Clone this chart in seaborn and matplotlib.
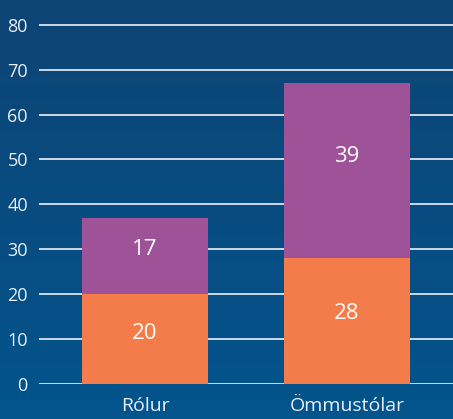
import numpy as np
import pandas as pd
import matplotlib
matplotlib.use("Agg")
import matplotlib.pyplot as plt
from matplotlib.colors import LinearSegmentedColormap
import seaborn as sns

categories = ["Rólur", "Ömmustólar"]
lower_vals = [20, 28]
upper_vals = [17, 39]
y_ticks = [0, 10, 20, 30, 40, 50, 60, 70, 80]

orange = "#f47c4a"
purple = "#9e5297"
text_col = "#e8eef5"
grid_col = "#dce5ee"

sns.set_style("white")
plt.rcParams["font.family"] = ["Open Sans", "DejaVu Sans"]

df = pd.DataFrame({"cat": categories, "lower": lower_vals, "upper": upper_vals})
df["total"] = df["lower"] + df["upper"]

fig = plt.figure(figsize=(4.53, 4.19), dpi=100)

# gradient background
bg = fig.add_axes([0, 0, 1, 1])
cmap = LinearSegmentedColormap.from_list("bg", ["#0d4474", "#03548d"])
grad = np.linspace(0, 1, 256).reshape(-1, 1)
bg.imshow(grad, aspect="auto", cmap=cmap, extent=[0, 1, 0, 1])
bg.axis("off")

ax = fig.add_axes([0.086, 0.0835, 0.914, 0.9165])
ax.patch.set_alpha(0)

sns.barplot(data=df, x="cat", y="total", color=purple, width=0.624,
            saturation=1, linewidth=0, ax=ax, zorder=3)
sns.barplot(data=df, x="cat", y="lower", color=orange, width=0.624,
            saturation=1, linewidth=0, ax=ax, zorder=3)

# labels sit a little above the segment middle, like the original
for i, row in df.iterrows():
    lo, up = row["lower"], row["upper"]
    ax.text(i, lo / 2 + 0.06 * lo, str(lo), ha="center", va="center",
            color="white", fontsize=16, zorder=4)
    ax.text(i, lo + up / 2 + 0.08 * up, str(up), ha="center", va="center",
            color="white", fontsize=16, zorder=4)

ax.set_xlim(-0.525, 1.525)
ax.set_ylim(0, 85.5)
ax.set_yticks(y_ticks)
ax.yaxis.grid(True, color=grid_col, linewidth=1.3, zorder=1)
ax.set_axisbelow(True)
for s in ax.spines.values():
    s.set_visible(False)
ax.tick_params(axis="both", length=0, colors=text_col)
ax.tick_params(axis="y", pad=8, labelsize=13)
ax.tick_params(axis="x", labelsize=14, pad=9)
ax.set_xlabel("")
ax.set_ylabel("")

fig.savefig("out.png", dpi=100)
